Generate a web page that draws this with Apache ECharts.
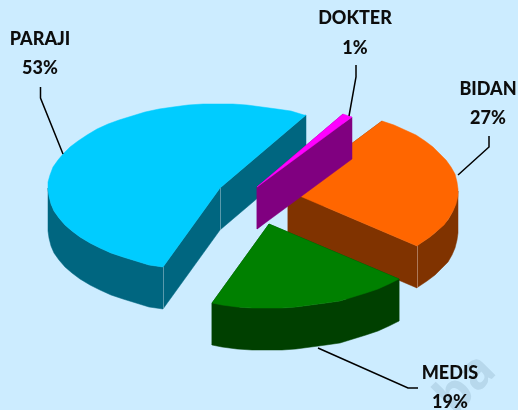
<!DOCTYPE html>
<html>
<head>
<meta charset="utf-8">
<style>html,body{margin:0;padding:0;background:#CCECFF}#c{width:518px;height:410px}</style>
<script src="https://cdn.jsdelivr.net/npm/echarts@6/dist/echarts.min.js"></script>
</head>
<body>
<div id="c"></div>
<script>
// Data, clockwise from the pie's first-slice angle
const categories = ['DOKTER', 'BIDAN', 'MEDIS', 'PARAJI'];
const percents = [1, 27, 19, 53];

// Styling and layout, kept apart from the data
const topColors = ['#FF00FF', '#FF6600', '#008000', '#00CCFF'];
const wallColors = ['#800080', '#803300', '#004000', '#006680'];
const firstAngle = 30, radiusY = 84, depth = 42, stepDeg = 5;
const radiiX = [172, 170, 172, 172];
const apexes = [[257, 187], [288, 191], [269, 224], [220, 188]];
const paintOrder = [1, 3, 2, 0];
const labelCenters = [[355, 18, 48], [488, 89, 118], [450, 373, 402], [40, 39, 68]];
const leaders = [
  [[356, 65], [356, 77], [349, 116]],
  [[489, 136], [489, 147], [458, 175]],
  [[318, 348], [408, 388], [418, 388]],
  [[40.5, 87], [40.5, 98], [63, 154]]
];
const total = percents.reduce((a, b) => a + b, 0);

function arcPoint(i, deg) {
  const r = deg * Math.PI / 180, apex = apexes[i];
  return [Math.round(apex[0] + radiiX[i] * Math.sin(r)), Math.round(apex[1] - radiusY * Math.cos(r))];
}
function down(p) { return [p[0], p[1] + depth]; }
function arcRange(i, from, to) {
  const pts = [];
  for (let d = from; d < to; d += stepDeg) pts.push(arcPoint(i, d));
  pts.push(arcPoint(i, to));
  return pts;
}
function poly(points, fill, z2) {
  return { type: 'polygon', shape: { points }, style: { fill, stroke: fill, lineWidth: 0.5 }, z2 };
}

function renderSlice(params, api) {
  const i = params.dataIndex;
  const value = api.value(0);
  let before = 0;
  for (let k = 0; k < i; k++) before += percents[k];
  const start = firstAngle + before / total * 360;
  const end = start + value / total * 360;
  const apex = apexes[i];
  const base = (paintOrder.indexOf(i) + 1) * 10;
  const wall = wallColors[i];
  const children = [];
  const pStart = arcPoint(i, start), pEnd = arcPoint(i, end);

  // Cut faces
  [pStart, pEnd].forEach(p => children.push(poly([apex, p, down(p), down(apex)], wall, base)));
  // Outer wall: the front half of the rim (90 to 270 degrees clockwise from the top)
  const from = Math.max(start, 90), to = Math.min(end, 270);
  if (to > from) {
    const rim = arcRange(i, from, to);
    children.push(poly(rim.concat(rim.slice().reverse().map(down)), wall, base + 1));
  }
  // Light vertical corner lines where a visible cut face meets a wall
  const corners = i === 3 ? [pStart, apex] : i === 1 ? [pEnd] : [];
  corners.forEach(p => children.push({
    type: 'line', shape: { x1: p[0] + 0.5, y1: p[1], x2: p[0] + 0.5, y2: p[1] + depth },
    style: { stroke: 'rgba(255,255,255,0.35)', lineWidth: 1 }, z2: base + 2
  }));
  // Top face
  children.push(poly([apex].concat(arcRange(i, start, end)), topColors[i], base + 3));

  // Label and leader
  const lc = labelCenters[i];
  children.push({ type: 'polyline', shape: { points: leaders[i] }, style: { stroke: '#000', lineWidth: 1.5, fill: null }, z2: 100 });
  const fontStyle = { fontFamily: 'Lato', fontWeight: 900, fontSize: 18, fill: '#0D0D0D', textAlign: 'center', textVerticalAlign: 'middle' };
  children.push({ type: 'text', style: Object.assign({ text: categories[i], x: lc[0], y: lc[1] }, fontStyle), z2: 101 });
  children.push({ type: 'text', style: Object.assign({ text: value + '%', x: lc[0], y: lc[2] }, fontStyle), z2: 101 });
  return { type: 'group', children };
}

const chart = echarts.init(document.getElementById('c'), null, { renderer: 'canvas' });
chart.setOption({
  animation: false,
  backgroundColor: '#CCECFF',
  graphic: [{
    type: 'text', x: 462, y: 424, rotation: Math.PI / 4, silent: true, z: -1,
    style: { text: 'ba', fontFamily: 'Open Sans', fontWeight: 'bold', fontSize: 50, fill: '#B7D8EC', textAlign: 'left', textVerticalAlign: 'bottom' }
  }],
  series: [{
    type: 'custom',
    coordinateSystem: 'none',
    renderItem: renderSlice,
    data: percents.map((v, i) => ({ name: categories[i], value: [v] })),
    silent: true,
    clip: false
  }]
});
</script>
</body>
</html>
